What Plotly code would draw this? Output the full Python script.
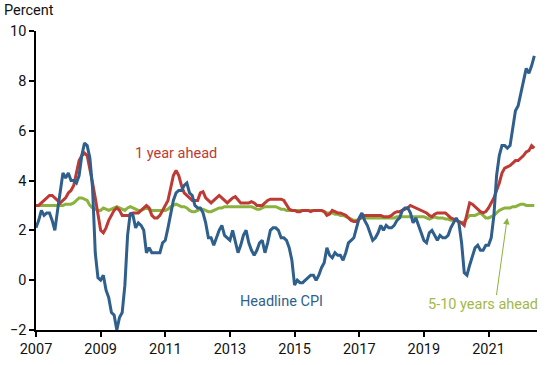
import plotly.graph_objects as go

# Monthly observations, Jan 2007 - Jun 2022
start_year = 2007
headline_cpi = [
    2.1, 2.4, 2.8, 2.6, 2.7, 2.7, 2.4, 2.0, 2.8, 3.5, 4.3, 4.1,   # 2007
    4.3, 4.0, 4.0, 3.9, 4.2, 5.0, 5.5, 5.4, 4.9, 3.7, 1.1, 0.1,   # 2008
    0.0, 0.2, -0.4, -0.7, -1.3, -1.4, -2.0, -1.5, -1.3, -0.2, 1.8, 2.7,  # 2009
    2.6, 2.1, 2.3, 2.2, 2.0, 1.1, 1.3, 1.1, 1.1, 1.1, 1.1, 1.5,   # 2010
    1.6, 2.1, 2.7, 3.2, 3.5, 3.6, 3.6, 3.8, 3.9, 3.5, 3.4, 3.0,   # 2011
    2.9, 2.9, 2.7, 2.3, 1.7, 1.7, 1.4, 1.7, 2.0, 2.2, 1.8, 1.7,   # 2012
    1.6, 2.0, 1.5, 1.1, 1.4, 1.8, 2.0, 1.5, 1.2, 1.0, 1.2, 1.5,   # 2013
    1.6, 1.1, 1.5, 2.0, 2.1, 2.1, 2.0, 1.7, 1.7, 1.6, 1.3, 0.8,   # 2014
    -0.2, 0.0, -0.1, -0.1, 0.0, 0.1, 0.2, 0.2, 0.0, 0.2, 0.5, 0.7,  # 2015
    1.3, 1.0, 0.9, 1.1, 1.0, 1.0, 0.8, 1.1, 1.5, 1.6, 1.7, 2.1,   # 2016
    2.5, 2.7, 2.4, 2.2, 1.9, 1.6, 1.7, 1.9, 2.2, 2.0, 2.2, 2.1,   # 2017
    2.1, 2.2, 2.4, 2.5, 2.8, 2.9, 2.9, 2.7, 2.3, 2.5, 2.2, 1.9,   # 2018
    1.6, 1.5, 1.9, 2.0, 1.8, 1.6, 1.8, 1.7, 1.7, 1.8, 2.1, 2.3,   # 2019
    2.5, 2.3, 1.5, 0.3, 0.2, 0.6, 1.0, 1.3, 1.4, 1.2, 1.2, 1.4,   # 2020
    1.4, 1.7, 2.6, 4.2, 5.0, 5.4, 5.4, 5.3, 5.4, 6.2, 6.8, 7.0,   # 2021
    7.5, 7.9, 8.5, 8.3, 8.6, 9.0,                                 # 2022
]
one_year_ahead = [
    3.0, 3.0, 3.1, 3.2, 3.3, 3.4, 3.4, 3.3, 3.2, 3.1, 3.2, 3.3,
    3.5, 3.6, 3.8, 4.3, 4.8, 5.0, 5.1, 5.0, 4.5, 3.9, 3.3, 2.6,
    2.0, 1.9, 2.1, 2.4, 2.6, 2.8, 2.9, 2.8, 2.6, 2.6, 2.6, 2.6,
    2.7, 2.7, 2.7, 2.8, 2.9, 3.0, 2.9, 2.6, 2.5, 2.5, 2.6, 2.8,
    3.0, 3.2, 3.7, 4.2, 4.4, 4.2, 3.8, 3.5, 3.4, 3.3, 3.2, 3.2,
    3.2, 3.5, 3.55, 3.3, 3.2, 3.1, 3.2, 3.3, 3.4, 3.3, 3.2, 3.1,
    3.2, 3.3, 3.35, 3.2, 3.1, 3.1, 3.1, 3.1, 3.15, 3.1, 3.0, 3.0,
    3.0, 3.1, 3.2, 3.25, 3.25, 3.25, 3.25, 3.25, 3.2, 3.0, 2.85, 2.8,
    2.8, 2.75, 2.75, 2.8, 2.8, 2.8, 2.75, 2.8, 2.8, 2.8, 2.8, 2.75,
    2.6, 2.65, 2.8, 2.75, 2.7, 2.7, 2.65, 2.6, 2.5, 2.4, 2.35, 2.35,
    2.45, 2.55, 2.6, 2.6, 2.6, 2.6, 2.6, 2.6, 2.6, 2.55, 2.55, 2.55,
    2.6, 2.7, 2.75, 2.75, 2.8, 2.85, 2.9, 3.0, 2.95, 2.9, 2.85, 2.8,
    2.75, 2.7, 2.6, 2.55, 2.65, 2.7, 2.7, 2.7, 2.7, 2.6, 2.5, 2.45,
    2.4, 2.35, 2.3, 2.2, 2.6, 3.1, 3.05, 2.95, 2.85, 2.75, 2.7, 2.75,
    2.9, 3.1, 3.3, 3.6, 3.9, 4.3, 4.5, 4.55, 4.6, 4.7, 4.8, 4.8,
    4.9, 5.0, 5.15, 5.2, 5.4, 5.3,
]
five_ten_years_ahead = [
    3.0, 3.0, 3.0, 3.0, 3.0, 3.0, 3.0, 3.0, 3.0, 3.0, 3.0, 3.05,
    3.05, 3.05, 3.1, 3.2, 3.3, 3.3, 3.25, 3.2, 3.0, 2.9, 2.85, 2.8,
    2.8, 2.9, 2.85, 2.8, 2.85, 2.9, 2.95, 2.9, 2.85, 2.8, 2.9, 2.95,
    2.9, 2.85, 2.8, 2.8, 2.85, 2.9, 2.85, 2.8, 2.8, 2.8, 2.8, 2.8,
    2.8, 2.85, 2.95, 3.0, 3.05, 3.0, 2.95, 2.95, 2.9, 2.8, 2.75, 2.75,
    2.8, 2.85, 2.85, 2.8, 2.75, 2.75, 2.8, 2.85, 2.9, 2.9, 2.95, 2.95,
    2.95, 2.95, 2.95, 2.95, 2.95, 2.95, 2.95, 2.95, 2.95, 2.9, 2.85, 2.85,
    2.9, 2.95, 2.95, 2.95, 2.95, 2.95, 2.9, 2.85, 2.85, 2.8, 2.8, 2.8,
    2.8, 2.8, 2.8, 2.8, 2.8, 2.8, 2.8, 2.8, 2.8, 2.8, 2.8, 2.75,
    2.7, 2.7, 2.7, 2.65, 2.65, 2.6, 2.6, 2.55, 2.5, 2.45, 2.4, 2.4,
    2.45, 2.5, 2.5, 2.5, 2.5, 2.5, 2.5, 2.5, 2.5, 2.5, 2.5, 2.5,
    2.5, 2.5, 2.55, 2.55, 2.55, 2.55, 2.55, 2.55, 2.55, 2.55, 2.55, 2.55,
    2.55, 2.5, 2.45, 2.5, 2.55, 2.5, 2.5, 2.5, 2.45, 2.45, 2.4, 2.4,
    2.4, 2.35, 2.3, 2.35, 2.5, 2.6, 2.6, 2.6, 2.65, 2.7, 2.6, 2.5,
    2.5, 2.55, 2.6, 2.7, 2.8, 2.85, 2.9, 2.9, 2.9, 2.95, 2.95, 3.0,
    3.05, 3.05, 3.0, 3.0, 3.0, 3.0,
]
x_ticks = [2007, 2009, 2011, 2013, 2015, 2017, 2019, 2021]
y_ticks = [-2, 0, 2, 4, 6, 8, 10]

BLUE = "#2F5F8C"
RED = "#BE3A34"
GREEN = "#8AB23E"

months = [start_year + i / 12 for i in range(len(headline_cpi))]

fig = go.Figure()
fig.add_trace(go.Scatter(x=months, y=five_ten_years_ahead, mode="lines",
                         line=dict(color=GREEN, width=3), name="5-10 years ahead"))
fig.add_trace(go.Scatter(x=months, y=one_year_ahead, mode="lines",
                         line=dict(color=RED, width=3), name="1 year ahead"))
fig.add_trace(go.Scatter(x=months, y=headline_cpi, mode="lines",
                         line=dict(color=BLUE, width=3), name="Headline CPI"))

FONT = "Roboto, Arial, sans-serif"
fig.add_annotation(x=2011.33, y=5.1, text="1 year ahead", showarrow=False,
                   font=dict(family=FONT, size=14.5, color=RED))
fig.add_annotation(x=2014.6, y=-0.84, text="Headline CPI", showarrow=False,
                   font=dict(family=FONT, size=14.5, color=BLUE))
fig.add_annotation(x=2020.82, y=-0.96, text="5-10 years ahead", showarrow=False,
                   font=dict(family=FONT, size=14.5, color="#A3B84A"))
fig.add_annotation(x=2021.58, y=2.5, ax=2021.24, ay=-0.66, axref="x", ayref="y",
                   text="", showarrow=True, arrowhead=2, arrowsize=1.3,
                   arrowwidth=1, arrowcolor=GREEN)
fig.add_annotation(x=0, y=1, xref="paper", yref="paper", xanchor="left", yanchor="bottom",
                   xshift=-34, yshift=10, text="Percent", showarrow=False,
                   font=dict(family=FONT, size=14.5, color="#111"))

fig.update_layout(
    width=550, height=365,
    margin=dict(l=36, r=13, t=31, b=35, autoexpand=False),
    paper_bgcolor="white", plot_bgcolor="white",
    showlegend=False, hovermode=False,
    font=dict(family=FONT, size=14.5, color="#111"),
)
fig.update_xaxes(range=[2007, 2022.5], tickvals=x_ticks, ticktext=[str(t) for t in x_ticks],
                 automargin=False,
                 showgrid=False, zeroline=False, showline=True, linecolor="black", linewidth=1.5,
                 ticks="outside", ticklen=5, tickcolor="black", tickwidth=1.5)
fig.update_yaxes(range=[-2, 10], tickvals=y_ticks, showgrid=False, zeroline=False,
                 automargin=False,
                 showline=True, linecolor="black", linewidth=1.5,
                 ticks="outside", ticklen=5, tickcolor="black", tickwidth=1.5)

fig.write_html("out.html", config={"displayModeBar": False},
               post_script="document.body.style.margin='0';document.body.style.padding='0';")
